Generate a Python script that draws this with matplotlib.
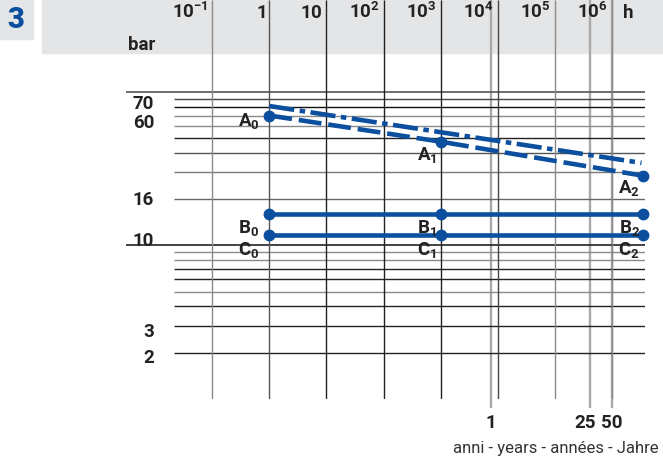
import numpy as np
import matplotlib
matplotlib.use("Agg")
import matplotlib.pyplot as plt
from matplotlib import transforms
from matplotlib.patches import Rectangle
from matplotlib.ticker import NullLocator

# ---------------- data ----------------
hour_decades = [1e-1, 1, 1e1, 1e2, 1e3, 1e4, 1e5, 1e6]
hour_labels = [r"$\mathbf{10^{-1}}$", r"$\mathbf{1}$", r"$\mathbf{10}$",
               r"$\mathbf{10^{2}}$", r"$\mathbf{10^{3}}$", r"$\mathbf{10^{4}}$",
               r"$\mathbf{10^{5}}$", r"$\mathbf{10^{6}}$"]
year_marks = [1, 25, 50]
year_labels = ["1", "25", "50"]
pressure_minor = [2, 3, 4, 5, 6, 7, 8, 9, 20, 30, 40, 50, 60, 70, 80, 90]
pressure_major = [10, 100]
y_ticks = [70, 60, 16, 10, 3, 2]
y_tick_labels = ["70", "60", "16", "10", "3", "2"]

t_A = [1, 1e3, 3.5e6]
p_A = [70, 47.3, 28.4]
t_A_upper = [1, 3.3e6]
p_A_upper = [80.7, 34.4]
t_B = [1, 1e3, 3.5e6]
p_B = [16, 16, 16]
t_C = [1, 1e3, 3.5e6]
p_C = [11.7, 11.7, 11.7]
labels_A = [r"$\mathbf{A_0}$", r"$\mathbf{A_1}$", r"$\mathbf{A_2}$"]
labels_B = [r"$\mathbf{B_0}$", r"$\mathbf{B_1}$", r"$\mathbf{B_2}$"]
labels_C = [r"$\mathbf{C_0}$", r"$\mathbf{C_1}$", r"$\mathbf{C_2}$"]

# ---------------- style ----------------
plt.rcParams['font.family'] = ['Roboto', 'DejaVu Sans']
plt.rcParams['mathtext.fontset'] = 'custom'
plt.rcParams['mathtext.rm'] = 'Roboto'
plt.rcParams['mathtext.bf'] = 'Roboto:bold'
plt.rcParams['mathtext.it'] = 'Roboto:italic'

BLUE = '#0b4f9e'
TXT = '#222222'
BAND = '#e4e5e7'
FS = 13.5

W, H, DPI = 663, 463, 100
fig = plt.figure(figsize=(W / DPI, H / DPI), dpi=DPI)

# axes geometry (pixel based)
ax_l, ax_r, ax_top, ax_bot = 126, 645, 0, 399
ax = fig.add_axes([ax_l / W, (H - ax_bot) / H, (ax_r - ax_l) / W, (ax_bot - ax_top) / H])
ax.set_facecolor('none')
dec_px = 57.1          # pixels per decade of hours
x_one = 269.3          # pixel of 1 h
ax.set_xscale('log')
ax.set_yscale('log')
ax.set_xlim(10 ** ((ax_l - x_one) / dec_px), 10 ** ((ax_r - x_one) / dec_px))
ydec = 153.65
ax.set_ylim(1, 10 ** (2 + 91.7 / ydec))
for s in ax.spines.values():
    s.set_visible(False)
ax.xaxis.set_major_locator(NullLocator()); ax.xaxis.set_minor_locator(NullLocator())
ax.yaxis.set_major_locator(NullLocator()); ax.yaxis.set_minor_locator(NullLocator())

ytop = ax.get_ylim()[1]
x_grid_start = 10 ** ((174 - x_one) / dec_px)
x_right = ax.get_xlim()[1]

# header band and figure number box
fig.add_artist(Rectangle((42 / W, 1 - 53 / H), (W - 42) / W, 53 / H,
                         transform=fig.transFigure, color=BAND, zorder=-5))
fig.add_artist(Rectangle((0, 1 - 39 / H), 33 / W, 39 / H,
                         transform=fig.transFigure, color=BAND, zorder=-5))
fig.text(16 / W, 1 - 28 / H, "3", color=BLUE, fontsize=21, fontweight='black',
         ha='center', va='baseline')

# horizontal grid
minor_colors = ['#222222', '#222222', '#222222', '#8a8a8a', '#222222', '#222222', '#8a8a8a', '#8a8a8a',
                '#666666', '#7a7a7a', '#555555', '#222222', '#8a8a8a', '#8a8a8a', '#111111', '#444444']
for v, c in zip(pressure_minor, minor_colors):
    ax.hlines(v, x_grid_start, x_right, color=c, lw=1.0, zorder=1)
ax.hlines(pressure_major, ax.get_xlim()[0], x_right, color=['#222222', '#555555'], lw=1.2, zorder=1)

# vertical decade lines
dec_colors = ['#8a8a8a', '#555555', '#222222', '#222222', '#222222', '#444444', '#8a8a8a', '#8a8a8a']
ax.vlines(hour_decades, 1, ytop, colors=dec_colors, lw=1.0, zorder=1)

# header labels (hours)
hdr = transforms.blended_transform_factory(ax.transData, fig.transFigure)
for v, lab in zip(hour_decades, hour_labels):
    tr = transforms.offset_copy(hdr, fig=fig, x=-4, y=0, units='dots')
    ax.text(v, 1 - 18 / H, lab, transform=tr, ha='right', va='baseline',
            fontsize=FS, color=TXT, clip_on=False)
ax.text(hour_decades[-1], 1 - 18 / H, "h", fontsize=FS, fontweight='bold', color=TXT,
        transform=transforms.offset_copy(hdr, fig=fig, x=11, y=0, units='dots'),
        ha='left', va='baseline', clip_on=False)
fig.text(155 / W, 1 - 50 / H, "bar", fontsize=FS, fontweight='bold', color=TXT,
         ha='right', va='baseline')

# pressure labels
ylab = transforms.blended_transform_factory(fig.transFigure, ax.transData)
y_nudge = [6.5, -2.5, 9, -0.6, -11.3, -10.2]
for v, lab, dy in zip(y_ticks, y_tick_labels, y_nudge):
    ax.text(154 / W, v, lab, fontsize=FS, fontweight='bold', color=TXT, ha='right', va='baseline',
            transform=transforms.offset_copy(ylab, fig=fig, x=0, y=dy, units='dots'), clip_on=False)

# years scale on a twin axis
ax2 = ax.twiny()
ax2.set_facecolor('none')
ax2.set_xscale('log')
y1_px, y50_px = 490.7, x_one + 6 * dec_px
ydec_px = (y50_px - y1_px) / np.log10(50)
ax2.set_xlim(10 ** ((ax_l - y1_px) / ydec_px), 10 ** ((ax_r - y1_px) / ydec_px))
for s in ax2.spines.values():
    s.set_visible(False)
ax2.xaxis.set_major_locator(NullLocator())
ax2.xaxis.set_minor_locator(NullLocator())
ax2.vlines(year_marks, 10 ** (-9 / ydec), ytop, colors='#a9a9a9', lw=1.7, zorder=2, clip_on=False)
yrs = transforms.blended_transform_factory(ax2.transData, fig.transFigure)
year_nudge = [0, -5, 0]
for v, lab, dx in zip(year_marks, year_labels, year_nudge):
    ax2.text(v, 1 - 428 / H, lab, fontsize=FS, fontweight='bold', color=TXT, ha='center',
             va='baseline', clip_on=False,
             transform=transforms.offset_copy(yrs, fig=fig, x=dx, y=0, units='dots'))
fig.text(453 / W, 1 - 453 / H, "anni - years - années - Jahre", fontsize=12,
         color='#333333', ha='left', va='baseline')

# pressure curves, drawn above the year lines
ax.set_zorder(3); ax2.set_zorder(2)
ax2.patch.set_visible(False)
LW = 3.3
ax.plot(t_A_upper, p_A_upper, color=BLUE, lw=LW, dashes=(5.5, 1.2, 1.2, 1.2), zorder=5,
        clip_on=False, dash_capstyle='butt')
ax.plot(t_A, p_A, color=BLUE, lw=LW, dashes=(5.0, 1.5), zorder=5, clip_on=False,
        dash_capstyle='butt')
ax.plot(t_A, p_A, 'o', color=BLUE, ms=7.5, zorder=6, clip_on=False)
ax.plot(t_B, p_B, '-o', color=BLUE, lw=LW, ms=7.5, zorder=6, clip_on=False)
ax.plot(t_C, p_C, '-o', color=BLUE, lw=LW, ms=7.5, zorder=6, clip_on=False)

# point labels
lab_dx = [-10, -4, -3]
for ts, ps, labs, dys in [(t_A, p_A, labels_A, [-10, -18, -17]),
                          (t_B, p_B, labels_B, [-19, -19, -19]),
                          (t_C, p_C, labels_C, [-20, -20, -20])]:
    for t, p, lab, dx, dy in zip(ts, ps, labs, lab_dx, dys):
        ax.text(t, p, lab, fontsize=FS, color=TXT, ha='right', va='baseline', zorder=7,
                transform=transforms.offset_copy(ax.transData, fig=fig, x=dx, y=dy, units='dots'),
                clip_on=False)

fig.savefig("out.png", dpi=DPI)
